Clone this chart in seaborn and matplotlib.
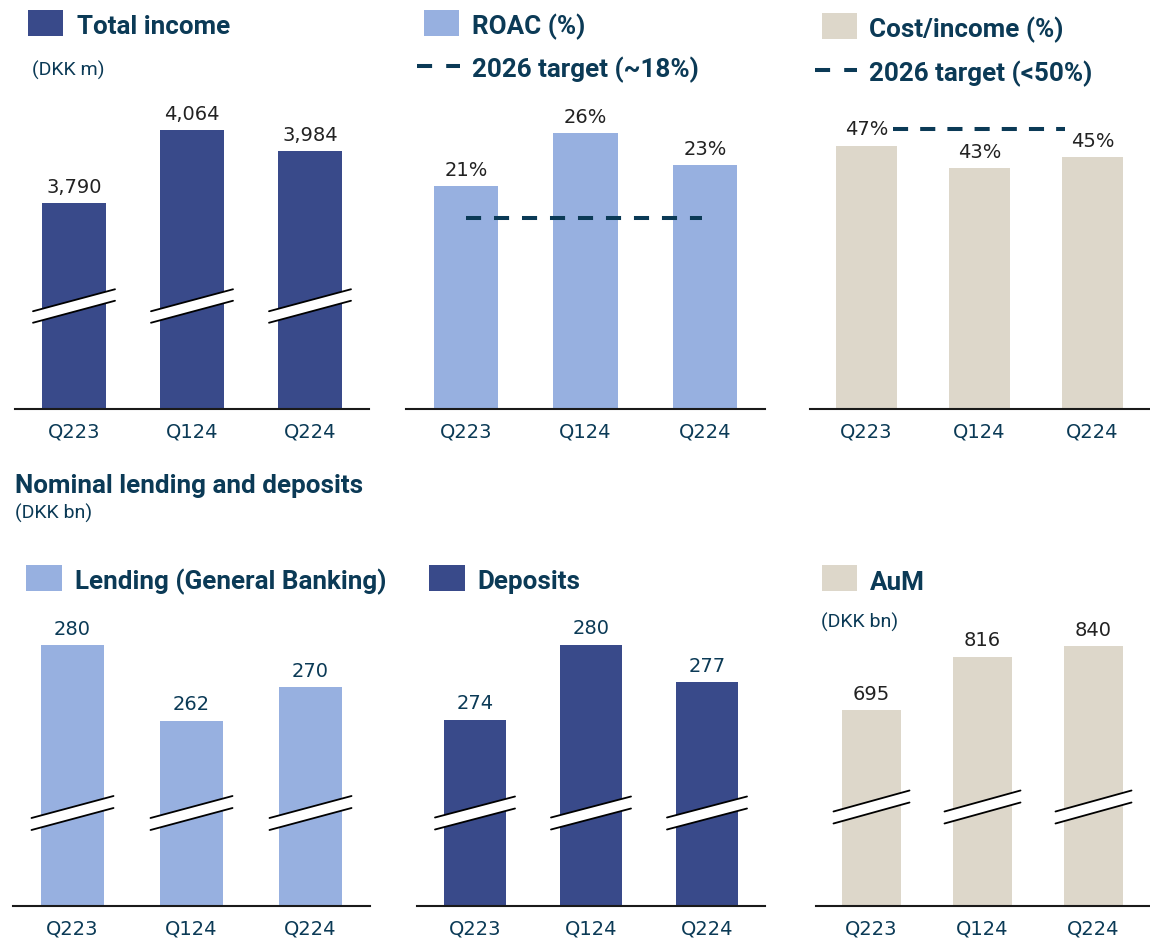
import matplotlib
matplotlib.use("Agg")
import matplotlib.pyplot as plt
import seaborn as sns
import pandas as pd
from matplotlib.patches import Rectangle, Polygon
from matplotlib.lines import Line2D

# ---------------- data ----------------
quarters = ["Q223", "Q124", "Q224"]
total_income = [3790, 4064, 3984]
roac = [21, 26, 23]
cost_income = [47, 43, 45]
lending = [280, 262, 270]
deposits = [274, 280, 277]
aum = [695, 816, 840]
roac_target = 18
cost_income_target = 50

# ---------------- style ----------------
sns.set_theme(style="white")
plt.rcParams["font.family"] = ["Roboto", "DejaVu Sans"]

NAVY = "#394A8A"
LIGHT = "#97B0E0"
BEIGE = "#DDD7CA"
TEXT = "#0B3A56"
DARK = "#222222"
NUMFONT = "DejaVu Sans"
TITLE_SIZE = 18.7

W, H = 1150, 940
fig = plt.figure(figsize=(W / 100, H / 100), dpi=100)
fig.patch.set_facecolor("white")


def add_ax(x0, x1, ytop, ybot):
    return fig.add_axes([x0 / W, 1 - ybot / H, (x1 - x0) / W, (ybot - ytop) / H])


def panel(ax, values, color, ylim, labels, label_color):
    df = pd.DataFrame({"q": quarters, "v": values})
    sns.barplot(data=df, x="q", y="v", ax=ax, color=color, saturation=1,
                width=0.535, errorbar=None, edgecolor=color, linewidth=0)
    ax.set_xlim(-0.5, 2.5)
    ax.set_ylim(*ylim)
    for s in ["top", "left", "right"]:
        ax.spines[s].set_visible(False)
    ax.spines["bottom"].set_linewidth(1.5)
    ax.spines["bottom"].set_color("#1a1a1a")
    ax.spines["bottom"].set_zorder(7)
    ax.set_xlabel("")
    ax.set_ylabel("")
    ax.set_yticks([])
    ax.tick_params(axis="x", length=0, pad=9.5, labelsize=14, labelcolor=TEXT)
    for t in ax.get_xticklabels():
        t.set_fontfamily(NUMFONT)
    for i, (v, lab) in enumerate(zip(values, labels)):
        ax.annotate(lab, (i, v), xytext=(0, 7.5), textcoords="offset points",
                    ha="center", va="baseline", fontsize=14, color=label_color,
                    family=NUMFONT)
    ax.patch.set_alpha(0)


def breaks(ax, up_px, half_w=41, rise=22, gap=11.5):
    inv = fig.transFigure.inverted()
    y0 = ax.get_ylim()[0]
    for i in range(len(quarters)):
        cx, by = ax.transData.transform((i, y0))
        cy = by + up_px
        ul = (cx - half_w, cy - rise / 2 + gap / 2)
        ur = (cx + half_w, cy + rise / 2 + gap / 2)
        ll = (cx - half_w, cy - rise / 2 - gap / 2)
        lr = (cx + half_w, cy + rise / 2 - gap / 2)
        pts = inv.transform([ll, lr, ur, ul])
        ax.add_patch(Polygon(pts, closed=True, facecolor="white", edgecolor="none",
                             transform=fig.transFigure, clip_on=False, zorder=5))
        for a, b in [(ul, ur), (ll, lr)]:
            p = inv.transform([a, b])
            ax.add_line(Line2D(p[:, 0], p[:, 1], transform=fig.transFigure,
                               color="black", lw=1.3, clip_on=False, zorder=6))


def square(x0, y0, x1, y1, color):
    fig.add_artist(Rectangle((x0 / W, 1 - y1 / H), (x1 - x0) / W, (y1 - y0) / H,
                             transform=fig.transFigure, facecolor=color,
                             edgecolor="none"))


def ftext(x, y, s, size, weight="normal", color=TEXT):
    fig.text(x / W, 1 - y / H, s, fontsize=size, fontweight=weight, color=color,
             ha="left", va="baseline", family=["Roboto", "DejaVu Sans"])


def legend_dash(x0, x1, y):
    fig.add_artist(Line2D([x0 / W, x1 / W], [1 - y / H, 1 - y / H],
                          transform=fig.transFigure, color=TEXT, lw=2.9,
                          dashes=(3.75, 3.5)))


# ---------------- top row ----------------
ax1 = add_ax(15, 369, 95, 409)
panel(ax1, total_income, NAVY, (3017, 4195.7), [f"{v:,}" for v in total_income], DARK)
breaks(ax1, 103)

ax2 = add_ax(406, 765, 95, 409)
panel(ax2, roac, LIGHT, (0, 29.62), [f"{v}%" for v in roac], DARK)
ax2.hlines(roac_target, 0, 1.97, color=TEXT, lw=2.9, linestyles=(0, (3.75, 3.2)),
           zorder=4)

ax3 = add_ax(810, 1149, 95, 409)
panel(ax3, cost_income, BEIGE, (0, 56.07), [f"{v}%" for v in cost_income], DARK)
ax3.hlines(cost_income_target, 0.235, 1.76, color=TEXT, lw=2.9,
           linestyles=(0, (3.75, 3.0)), zorder=4)

# ---------------- bottom row ----------------
ax4 = add_ax(13, 370, 600, 906)
panel(ax4, lending, LIGHT, (217.9, 290.76), [str(v) for v in lending], TEXT)
breaks(ax4, 93, half_w=41, rise=22, gap=12)

ax5 = add_ax(417, 765, 600, 906)
panel(ax5, deposits, NAVY, (259.1, 283.58), [str(v) for v in deposits], TEXT)
breaks(ax5, 93, half_w=40, rise=21, gap=12)

ax6 = add_ax(816, 1149, 600, 906)
panel(ax6, aum, BEIGE, (252.1, 943.8), [str(v) for v in aum], DARK)
breaks(ax6, 99, half_w=38, rise=21, gap=12)

# ---------------- legends / titles ----------------
square(28, 10, 63, 35.7, NAVY)
ftext(77, 34, "Total income", TITLE_SIZE, "bold")
ftext(32, 76, "(DKK m)", 14)

square(424, 10, 459.3, 35.7, LIGHT)
ftext(472, 34, "ROAC (%)", TITLE_SIZE, "bold")
legend_dash(417, 460, 66)
ftext(472, 77, "2026 target (~18%)", TITLE_SIZE, "bold")

square(821.7, 13.3, 856.7, 39.3, BEIGE)
ftext(869, 37, "Cost/income (%)", TITLE_SIZE, "bold")
legend_dash(815, 857, 69.5)
ftext(869, 81.5, "2026 target (<50%)", TITLE_SIZE, "bold")

ftext(15, 493, "Nominal lending and deposits", TITLE_SIZE, "bold")
ftext(15, 519, "(DKK bn)", 14)

square(26, 565, 62, 591, LIGHT)
ftext(75, 589.5, "Lending (General Banking)", TITLE_SIZE, "bold")

square(429.3, 565, 465, 591, NAVY)
ftext(477.5, 589.5, "Deposits", TITLE_SIZE, "bold")

square(821.7, 565, 857.3, 590.7, BEIGE)
ftext(870, 589.5, "AuM", TITLE_SIZE, "bold")
ftext(821, 628, "(DKK bn)", 14)

fig.savefig("out.png", dpi=100)
